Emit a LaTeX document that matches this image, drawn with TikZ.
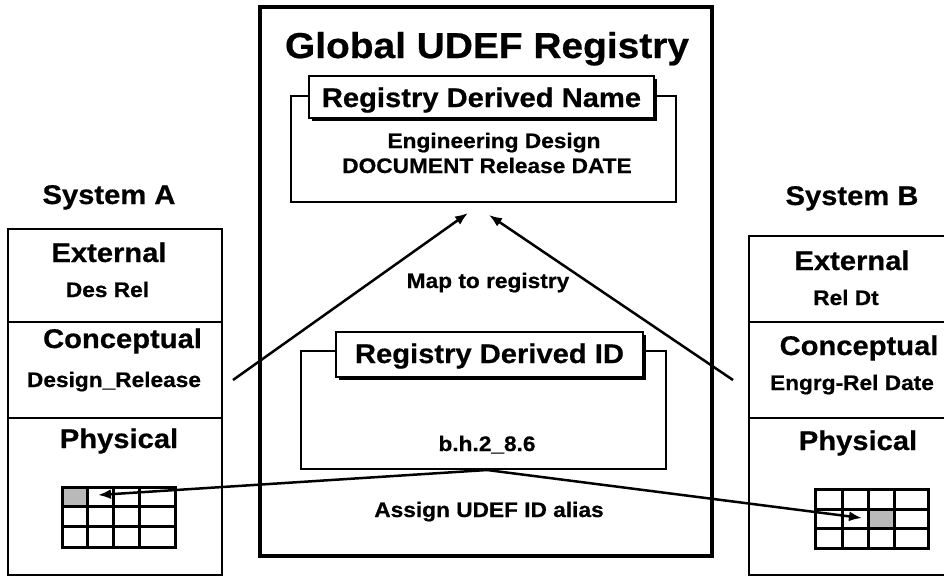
\documentclass[tikz,border=0pt]{standalone}
\usepackage{fontspec}
\setmainfont{Liberation Sans}[FakeStretch=1.08, BoldFeatures={FakeBold=0.6}]
\usetikzlibrary{arrows.meta,shadows}

\begin{document}
\begin{tikzpicture}[x=1pt,y=-1pt,
  lbl/.style={anchor=base, inner sep=0pt},
  small/.style={lbl, font=\bfseries\fontsize{21}{24}\selectfont},
  mid/.style={lbl, font=\bfseries\fontsize{27}{30}\selectfont},
  big/.style={lbl, font=\bfseries\fontsize{36}{40}\selectfont},
  frame/.style={draw, line width=4.5pt, inner sep=0pt},
  sysbox/.style={draw, line width=2.5pt, inner sep=0pt},
  bracket/.style={draw, line width=2.5pt, inner sep=0pt},
  tag/.style={draw, line width=2.2pt, fill=white, inner sep=0pt,
    font=\bfseries\fontsize{27}{30}\selectfont,
    drop shadow={shadow xshift=2.5pt, shadow yshift=-2.5pt, opacity=1, fill=black}},
  divider/.style={line width=2.5pt},
  gridline/.style={line width=3pt},
  hot/.style={fill=gray!55},
  arr/.style={line width=2.5pt, -{Latex[length=13pt,width=10pt]}}
]
\useasboundingbox (0,0) rectangle (944,576);

% ---- central registry ----
\node[frame, minimum width=452pt, minimum height=549pt] (reg) at (486,281.5) {};
\node[big] (regtitle) at (487,58) {Global UDEF Registry};

% registry derived name
\node[bracket, minimum width=385pt, minimum height=106pt] (namebox) at (483.5,149) {};
\node[tag, minimum width=345pt, minimum height=42pt, text height=22pt, text depth=2pt]
  (nametag) at (481.5,97) {Registry Derived Name};
\node[small] (name1) at (494,148) {Engineering Design};
\node[small] (name2) at (487,173) {DOCUMENT Release DATE};
\node[small] (maplbl) at (488,288) {Map to registry};

% registry derived id
\node[bracket, minimum width=365pt, minimum height=118pt] (idbox) at (483.5,410) {};
\node[tag, minimum width=307pt, minimum height=45pt, text height=20pt, text depth=3pt]
  (idtag) at (489.5,354.5) {Registry Derived ID};
\node[small] (idval) at (487,451) {b.h.2\_8.6};
\node[small] (assignlbl) at (489,517) {Assign UDEF ID alias};

% ---- system A ----
\node[mid] (sysAtitle) at (109,204) {System A};
\node[sysbox, minimum width=214pt, minimum height=346pt] (sysA) at (115,402) {};
\draw[divider] (sysA.west |- 0,322) -- (sysA.east |- 0,322);
\draw[divider] (sysA.west |- 0,418) -- (sysA.east |- 0,418);
\node[mid] (aExt) at (109,262) {External};
\node[small] (aExtV) at (107.5,297) {Des Rel};
\node[mid] (aCon) at (122.5,348) {Conceptual};
\node[small] (aConV) at (114,387) {Design\_Release};
\node[mid] (aPhy) at (119,448) {Physical};

% table in system A
\fill[hot] (62,487) rectangle (87,506);
\draw[gridline] (62,487) rectangle (175,547);
\foreach \gx in {87,113,139} \draw[gridline] (\gx,487) -- (\gx,547);
\foreach \gy in {506,526} \draw[gridline] (62,\gy) -- (175,\gy);

% ---- system B ----
\node[mid] (sysBtitle) at (852,205) {System B};
\node[sysbox, minimum width=210pt, minimum height=339pt] (sysB) at (854,405.5) {};
\draw[divider] (sysB.west |- 0,322) -- (sysB.east |- 0,322);
\draw[divider] (sysB.west |- 0,418) -- (sysB.east |- 0,418);
\node[mid] (bExt) at (852,270) {External};
\node[small] (bExtV) at (846,305) {Rel Dt};
\node[mid] (bCon) at (859,355) {Conceptual};
\node[small] (bConV) at (852,390) {Engrg-Rel Date};
\node[mid] (bPhy) at (858,450) {Physical};

% table in system B
\fill[hot] (868,509) rectangle (894,528);
\draw[gridline] (815,489) rectangle (928,548);
\foreach \gx in {842,868,894} \draw[gridline] (\gx,489) -- (\gx,548);
\foreach \gy in {509,528} \draw[gridline] (815,\gy) -- (928,\gy);

% ---- connector ends ----
\coordinate (aConEnd) at (233,380);
\coordinate (bConEnd) at (733,380);
\coordinate (nameInL) at (468,213);
\coordinate (nameInR) at (489,215);
\coordinate (idOut) at (487,470);
\coordinate (cellA) at (98,495);
\coordinate (cellB) at (862,518);

% ---- connectors ----
\draw[arr] (aConEnd) -- (nameInL);
\draw[arr] (bConEnd) -- (nameInR);
\draw[arr] (idOut) -- (cellA);
\draw[arr] (idOut) -- (cellB);
\end{tikzpicture}
\end{document}
